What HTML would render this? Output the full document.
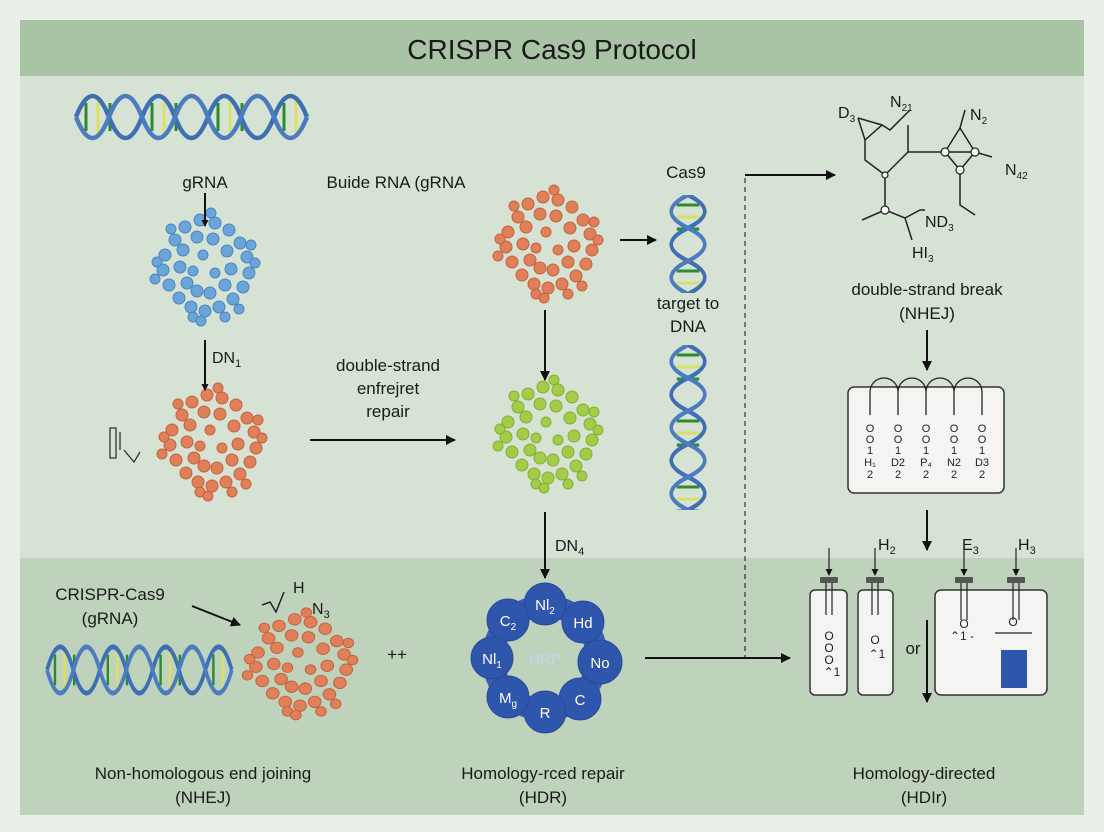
<!DOCTYPE html>
<html><head><meta charset="utf-8"><style>
html,body{margin:0;padding:0;background:#e9f0e8;}
svg{display:block;font-family:"Liberation Sans",sans-serif;}
</style></head><body>
<svg width="1104" height="832" viewBox="0 0 1104 832" xmlns="http://www.w3.org/2000/svg">
<defs>
<marker id="ah" markerWidth="10" markerHeight="10" refX="9" refY="5" orient="auto" markerUnits="userSpaceOnUse"><path d="M0,0 L10,5 L0,10 z" fill="#111"/></marker>
<marker id="ahs" markerWidth="7" markerHeight="7" refX="6" refY="3.5" orient="auto" markerUnits="userSpaceOnUse"><path d="M0,0 L7,3.5 L0,7 z" fill="#111"/></marker>
<clipPath id="c1"><rect x="0" y="-40" width="98" height="80"/></clipPath>
<clipPath id="c2"><rect x="0" y="-40" width="165" height="80"/></clipPath>
<g id="cl">
<circle cx="-40" cy="-10" r="6"/><circle cx="-42" cy="5" r="6"/><circle cx="-36" cy="20" r="6"/><circle cx="-30" cy="-25" r="6"/>
<circle cx="-20" cy="-38" r="6"/><circle cx="-5" cy="-45" r="6"/><circle cx="10" cy="-42" r="6"/><circle cx="24" cy="-35" r="6"/>
<circle cx="35" cy="-22" r="6"/><circle cx="42" cy="-8" r="6"/><circle cx="44" cy="8" r="6"/><circle cx="38" cy="22" r="6"/>
<circle cx="28" cy="34" r="6"/><circle cx="14" cy="42" r="6"/><circle cx="0" cy="46" r="6"/><circle cx="-14" cy="42" r="6"/>
<circle cx="-26" cy="33" r="6"/><circle cx="-22" cy="-15" r="6"/><circle cx="-25" cy="2" r="6"/><circle cx="-18" cy="18" r="6"/>
<circle cx="-8" cy="-28" r="6"/><circle cx="8" cy="-26" r="6"/><circle cx="22" cy="-14" r="6"/><circle cx="26" cy="4" r="6"/>
<circle cx="20" cy="20" r="6"/><circle cx="5" cy="28" r="6"/><circle cx="-8" cy="26" r="6"/><circle cx="-2" cy="-10" r="5"/>
<circle cx="10" cy="8" r="5"/><circle cx="-12" cy="6" r="5"/><circle cx="50" cy="-2" r="5"/><circle cx="-48" cy="-3" r="5"/>
<circle cx="-12" cy="52" r="5"/><circle cx="6" cy="-52" r="5"/><circle cx="34" cy="44" r="5"/><circle cx="-34" cy="-36" r="5"/>
<circle cx="-4" cy="56" r="5"/><circle cx="46" cy="-20" r="5"/><circle cx="-50" cy="14" r="5"/><circle cx="20" cy="52" r="5"/>
</g>
<g id="hx">
<g stroke-width="3">
<line x1="10" y1="-14" x2="10" y2="14" stroke="#2f8a2f"/><line x1="22" y1="-18" x2="22" y2="18" stroke="#d8e06a"/><line x1="34" y1="-14" x2="34" y2="14" stroke="#2f8a2f"/>
<line x1="76" y1="-14" x2="76" y2="14" stroke="#2f8a2f"/><line x1="88" y1="-18" x2="88" y2="18" stroke="#d8e06a"/><line x1="100" y1="-14" x2="100" y2="14" stroke="#2f8a2f"/>
<line x1="142" y1="-14" x2="142" y2="14" stroke="#2f8a2f"/><line x1="154" y1="-18" x2="154" y2="18" stroke="#d8e06a"/><line x1="166" y1="-14" x2="166" y2="14" stroke="#2f8a2f"/>
<line x1="208" y1="-14" x2="208" y2="14" stroke="#2f8a2f"/><line x1="220" y1="-18" x2="220" y2="18" stroke="#d8e06a"/>
</g>
<path d="M0,0 C11,-28 22,-28 33,0 S55,28 66,0 S88,-28 99,0 S121,28 132,0 S154,-28 165,0 S187,28 198,0 S220,-28 231,0" fill="none" stroke="#3f6fb3" stroke-width="4.5"/>
<path d="M0,0 C11,28 22,28 33,0 S55,-28 66,0 S88,28 99,0 S121,-28 132,0 S154,28 165,0 S187,-28 198,0 S220,28 231,0" fill="none" stroke="#4b7cc0" stroke-width="4.5"/>
</g>
</defs>
<rect x="20" y="20" width="1064" height="538" fill="#d6e3d4"/>
<rect x="20" y="558" width="1064" height="257" fill="#bfd3bc"/>
<rect x="20" y="20" width="1064" height="56" fill="#a9c4a4"/>
<text x="552" y="59" font-size="28" text-anchor="middle" fill="#1a1a1a">CRISPR Cas9 Protocol</text>

<g font-size="17" fill="#1a1a1a" text-anchor="middle">
<text x="205" y="188">gRNA</text>
<text x="396" y="188">Buide RNA (gRNA</text>
<text x="686" y="178">Cas9</text>
<text x="688" y="309">target to</text>
<text x="688" y="332">DNA</text>
<text x="388" y="371">double-strand</text>
<text x="388" y="394">enfrejret</text>
<text x="388" y="417">repair</text>
<text x="927" y="295">double-strand break</text>
<text x="927" y="319">(NHEJ)</text>
<text x="203" y="779">Non-homologous end joining</text>
<text x="203" y="803">(NHEJ)</text>
<text x="543" y="779">Homology-rced repair</text>
<text x="543" y="803">(HDR)</text>
<text x="924" y="779">Homology-directed</text>
<text x="924" y="803">(HDIr)</text>
<text x="110" y="600">CRISPR-Cas9</text>
<text x="110" y="624">(gRNA)</text>
<text x="913" y="654">or</text>
<text x="397" y="660">++</text>
</g>
<g font-size="16" fill="#1a1a1a">
<text x="212" y="363">DN<tspan font-size="11" dy="4">1</tspan></text>
<text x="555" y="551">DN<tspan font-size="11" dy="4">4</tspan></text>
<text x="878" y="550">H<tspan font-size="11" dy="4">2</tspan></text>
<text x="962" y="550">E<tspan font-size="11" dy="4">3</tspan></text>
<text x="1018" y="550">H<tspan font-size="11" dy="4">3</tspan></text>
<text x="293" y="593">H</text><text x="312" y="614">N<tspan font-size="11" dy="4">3</tspan></text>
</g>
<path d="M262,605 l8,-3 l6,10 l8,-20" fill="none" stroke="#222" stroke-width="1.5"/>

<!-- helices -->
<use href="#hx" transform="translate(76,117)"/>
<use href="#hx" transform="translate(47,670) scale(0.8,1.1)"/>
<g transform="translate(688,195) rotate(90) scale(1,0.8)"><use href="#hx" clip-path="url(#c1)"/></g>
<g transform="translate(688,345) rotate(90) scale(1,0.8)"><use href="#hx" clip-path="url(#c2)"/></g>

<!-- clusters -->
<use href="#cl" transform="translate(205,265)" fill="#6aa4d8" stroke="#4a86bf" stroke-width="1"/>
<use href="#cl" transform="translate(212,440)" fill="#e0805a" stroke="#c4623e" stroke-width="1"/>
<use href="#cl" transform="translate(548,242)" fill="#e0805a" stroke="#c4623e" stroke-width="1"/>
<use href="#cl" transform="translate(548,432)" fill="#a3cc48" stroke="#86ad32" stroke-width="1"/>
<use href="#cl" transform="translate(300,662) scale(1.05,0.95)" fill="#e0805a" stroke="#c4623e" stroke-width="1"/>
<path d="M110,428 h6 v30 h-6 z M120,432 v18 M124,450 l10,12 l6,-10" fill="none" stroke="#333" stroke-width="1.3"/>

<!-- ring -->
<g fill="#2f56ad" stroke="#274a99">
<circle cx="545" cy="658" r="52" fill="none" stroke="#3a5fb0" stroke-width="22"/>
<circle cx="545" cy="604" r="21"/><circle cx="583" cy="622" r="21"/><circle cx="600" cy="662" r="22"/><circle cx="580" cy="699" r="21"/>
<circle cx="545" cy="712" r="21"/><circle cx="508" cy="697" r="21"/><circle cx="492" cy="658" r="21"/><circle cx="508" cy="620" r="21"/>
</g>
<g fill="#fff" font-size="15" text-anchor="middle">
<text x="545" y="610">Nl<tspan font-size="10" dy="4">2</tspan></text>
<text x="583" y="628">Hd</text><text x="600" y="668">No</text><text x="580" y="705">C</text>
<text x="545" y="718">R</text><text x="508" y="703">M<tspan font-size="10" dy="4">g</tspan></text>
<text x="492" y="664">Nl<tspan font-size="10" dy="4">1</tspan></text><text x="508" y="626">C<tspan font-size="10" dy="4">2</tspan></text>
<text x="545" y="664" fill="#c8d4ef">HRP</text>
</g>

<!-- arrows -->
<g stroke="#111" stroke-width="2" fill="none">
<line x1="205" y1="193" x2="205" y2="226" marker-end="url(#ahs)"/>
<line x1="205" y1="340" x2="205" y2="390" marker-end="url(#ahs)"/>
<line x1="310" y1="440" x2="455" y2="440" marker-end="url(#ah)"/>
<line x1="620" y1="240" x2="656" y2="240" marker-end="url(#ah)"/>
<line x1="545" y1="310" x2="545" y2="380" marker-end="url(#ah)"/>
<line x1="545" y1="512" x2="545" y2="578" marker-end="url(#ah)"/>
<line x1="745" y1="175" x2="835" y2="175" marker-end="url(#ah)"/>
<line x1="645" y1="658" x2="790" y2="658" marker-end="url(#ah)"/>
<line x1="192" y1="606" x2="240" y2="625" marker-end="url(#ah)"/>
<line x1="927" y1="330" x2="927" y2="370" marker-end="url(#ah)"/>
<line x1="927" y1="510" x2="927" y2="550" marker-end="url(#ah)"/>
<line x1="927" y1="620" x2="927" y2="702" marker-end="url(#ah)"/>
<line x1="745" y1="178" x2="745" y2="658" stroke-dasharray="5,4" stroke-width="1"/>
</g>

<!-- chem structure -->
<g stroke="#222" stroke-width="1.5" fill="none">
<path d="M858,118 L882,125 L890,130 L910,110 M858,118 L865,140 L865,160 L885,175 L908,152 L908,125 M865,140 L882,125"/>
<path d="M908,152 L945,152 L975,152 L992,157 M945,152 L960,128 L975,152 L960,170 Z M960,128 L965,110 M960,170 L960,205 L975,215"/>
<path d="M885,175 L885,210 L862,220 M885,210 L905,218 L920,210 L925,210 M905,218 L912,240"/>
</g>
<g fill="#fff" stroke="#222" stroke-width="1.2"><circle cx="945" cy="152" r="4"/><circle cx="975" cy="152" r="4"/><circle cx="960" cy="170" r="4"/><circle cx="885" cy="175" r="3"/><circle cx="885" cy="210" r="4"/></g>
<g font-size="16" fill="#1a1a1a">
<text x="838" y="118">D<tspan font-size="10" dy="4">3</tspan></text>
<text x="890" y="107">N<tspan font-size="10" dy="4">21</tspan></text>
<text x="970" y="120">N<tspan font-size="10" dy="4">2</tspan></text>
<text x="1005" y="175">N<tspan font-size="10" dy="4">42</tspan></text>
<text x="925" y="227">ND<tspan font-size="10" dy="4">3</tspan></text>
<text x="912" y="258">HI<tspan font-size="10" dy="4">3</tspan></text>
</g>

<!-- box with arcs -->
<rect x="848" y="387" width="156" height="106" rx="6" fill="#f4f5f2" stroke="#333" stroke-width="1.5"/>
<g stroke="#222" stroke-width="1.3" fill="none">
<path d="M870,415 L870,392 A14,14 0 0 1 898,392 A14,14 0 0 1 926,392 A14,14 0 0 1 954,392 A14,14 0 0 1 982,392 L982,415"/>
<line x1="898" y1="392" x2="898" y2="415"/><line x1="926" y1="392" x2="926" y2="415"/><line x1="954" y1="392" x2="954" y2="415"/>
</g>
<g font-size="11" fill="#222" text-anchor="middle">
<text x="870" y="432">O</text><text x="870" y="443">O</text><text x="870" y="454">1</text><text x="870" y="466">H₁</text><text x="870" y="478">2</text>
<text x="898" y="432">O</text><text x="898" y="443">O</text><text x="898" y="454">1</text><text x="898" y="466">D2</text><text x="898" y="478">2</text>
<text x="926" y="432">O</text><text x="926" y="443">O</text><text x="926" y="454">1</text><text x="926" y="466">P₄</text><text x="926" y="478">2</text>
<text x="954" y="432">O</text><text x="954" y="443">O</text><text x="954" y="454">1</text><text x="954" y="466">N2</text><text x="954" y="478">2</text>
<text x="982" y="432">O</text><text x="982" y="443">O</text><text x="982" y="454">1</text><text x="982" y="466">D3</text><text x="982" y="478">2</text>
</g>

<!-- tubes -->
<g fill="#f4f5f2" stroke="#333" stroke-width="1.5">
<rect x="810" y="590" width="37" height="105" rx="5"/>
<rect x="858" y="590" width="35" height="105" rx="5"/>
<rect x="935" y="590" width="112" height="105" rx="6"/>
</g>
<rect x="1001" y="650" width="26" height="38" fill="#2f56ad"/>
<g fill="#555"><rect x="820" y="577" width="18" height="6" rx="1"/><rect x="866" y="577" width="18" height="6" rx="1"/><rect x="955" y="577" width="18" height="6" rx="1"/><rect x="1007" y="577" width="18" height="6" rx="1"/></g>
<g stroke="#222" stroke-width="1.2">
<line x1="826" y1="583" x2="826" y2="615"/><line x1="832" y1="583" x2="832" y2="615"/>
<line x1="872" y1="583" x2="872" y2="615"/><line x1="878" y1="583" x2="878" y2="615"/>
<line x1="961" y1="583" x2="961" y2="620"/><line x1="967" y1="583" x2="967" y2="620"/>
<line x1="1013" y1="583" x2="1013" y2="620"/><line x1="1019" y1="583" x2="1019" y2="620"/>
<line x1="995" y1="633" x2="1032" y2="633"/>
<line x1="829" y1="548" x2="829" y2="575" marker-end="url(#ahs)"/>
<line x1="875" y1="548" x2="875" y2="575" marker-end="url(#ahs)"/>
<line x1="964" y1="548" x2="964" y2="575" marker-end="url(#ahs)"/>
<line x1="1016" y1="548" x2="1016" y2="575" marker-end="url(#ahs)"/>
</g>
<g font-size="12" fill="#222" text-anchor="middle">
<text x="829" y="640">O</text><text x="829" y="652">O</text><text x="829" y="664">O</text><text x="832" y="676">⌃1</text>
<text x="875" y="644">O</text><text x="877" y="658">⌃1</text>
<text x="964" y="628">O</text><text x="962" y="640">⌃1 -</text>
<text x="1013" y="626">O</text>
</g>
</svg>
</body></html>
